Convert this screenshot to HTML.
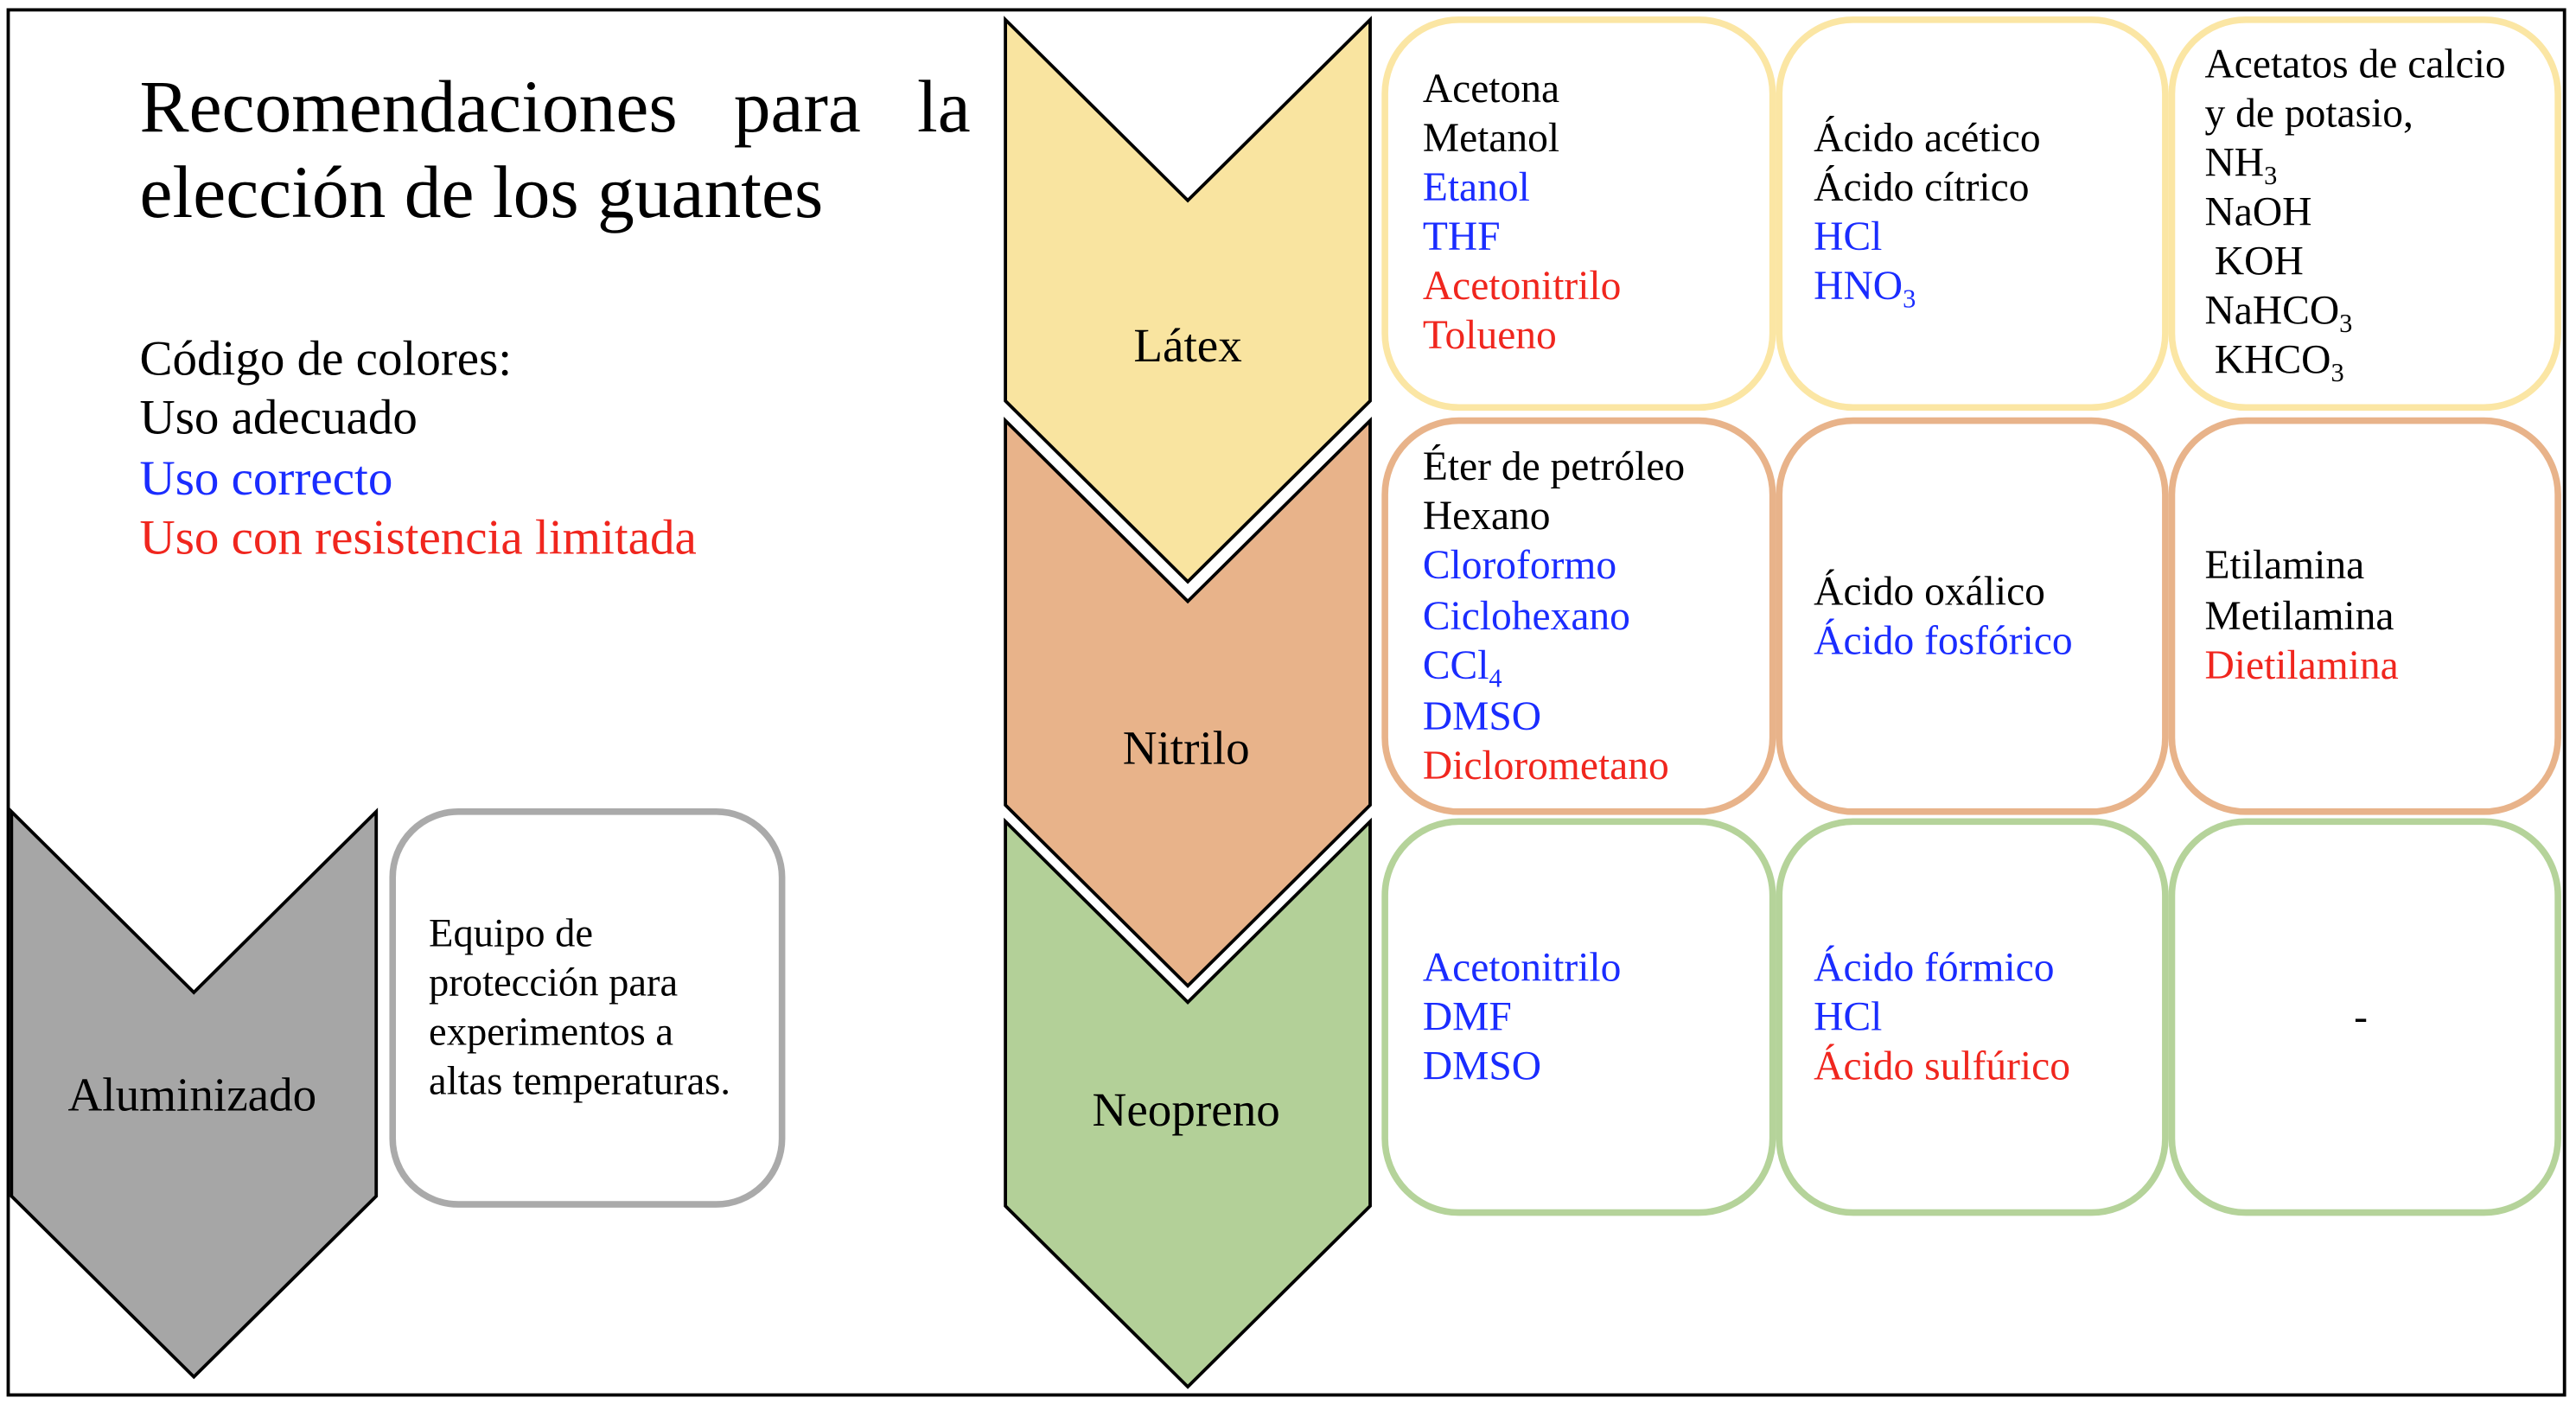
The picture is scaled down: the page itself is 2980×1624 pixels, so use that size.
<!DOCTYPE html>
<html><head><meta charset="utf-8"><style>html,body{margin:0;padding:0;background:#fff}svg{display:block}</style></head>
<body>
<svg width="2980" height="1624" viewBox="0 0 1568 854.5" xmlns="http://www.w3.org/2000/svg" font-family="'Liberation Serif', serif">
<rect x="5" y="6" width="1556" height="843" fill="#fff" stroke="#000" stroke-width="2"/>
<text x="85" y="80" font-size="45" word-spacing="23">Recomendaciones para la</text>
<text x="85" y="132" font-size="45">elección de los guantes</text>
<g font-size="30">
<text x="85" y="228">Código de colores:</text>
<text x="85" y="264">Uso adecuado</text>
<text x="85" y="301" fill="#1a2cff">Uso correcto</text>
<text x="85" y="337" fill="#f0261e">Uso con resistencia limitada</text>
</g>
<g stroke="#000" stroke-width="2">
<polygon points="612,12 723,122 834,12 834,244 723,354 612,244" fill="#f9e4a0"/>
<polygon points="612,256 723,366 834,256 834,490 723,600 612,490" fill="#e8b38a"/>
<polygon points="612,500 723,610 834,500 834,734 723,844 612,734" fill="#b3d098"/>
<polygon points="7,494 118,604 229,494 229,728 118,838 7,728" fill="#a6a6a6"/>
</g>
<g font-size="29" text-anchor="middle">
<text x="723" y="220">Látex</text>
<text x="722" y="465">Nitrilo</text>
<text x="722" y="685">Neopreno</text>
<text x="117" y="676">Aluminizado</text>
</g>
<g fill="none" stroke-width="4">
<rect x="843" y="12" width="236" height="236" rx="45" stroke="#fbe6a4"/>
<rect x="1083" y="12" width="235" height="236" rx="45" stroke="#fbe6a4"/>
<rect x="1322" y="12" width="235" height="236" rx="45" stroke="#fbe6a4"/>
<rect x="843" y="256" width="236" height="238" rx="45" stroke="#e8b38a"/>
<rect x="1083" y="256" width="235" height="238" rx="45" stroke="#e8b38a"/>
<rect x="1322" y="256" width="235" height="238" rx="45" stroke="#e8b38a"/>
<rect x="843" y="500" width="236" height="238" rx="45" stroke="#b5d39a"/>
<rect x="1083" y="500" width="235" height="238" rx="45" stroke="#b5d39a"/>
<rect x="1322" y="500" width="235" height="238" rx="45" stroke="#b5d39a"/>
<rect x="239" y="494" width="237" height="239" rx="40" stroke="#aaaaaa"/>
</g>
<g font-size="25">
<text x="866" y="62">Acetona</text>
<text x="866" y="92">Metanol</text>
<text x="866" y="122" fill="#1a2cff">Etanol</text>
<text x="866" y="152" fill="#1a2cff">THF</text>
<text x="866" y="182" fill="#f0261e">Acetonitrilo</text>
<text x="866" y="212" fill="#f0261e">Tolueno</text>

<text x="1104" y="92">Ácido acético</text>
<text x="1104" y="122">Ácido cítrico</text>
<text x="1104" y="152" fill="#1a2cff">HCl</text>
<text x="1104" y="182" fill="#1a2cff">HNO<tspan font-size="16" dy="5">3</tspan></text>

<text x="1342" y="47">Acetatos de calcio</text>
<text x="1342" y="77">y de potasio,</text>
<text x="1342" y="107">NH<tspan font-size="16" dy="5">3</tspan></text>
<text x="1342" y="137">NaOH</text>
<text x="1348" y="167">KOH</text>
<text x="1342" y="197">NaHCO<tspan font-size="16" dy="5">3</tspan></text>
<text x="1348" y="227">KHCO<tspan font-size="16" dy="5">3</tspan></text>

<text x="866" y="292">Éter de petróleo</text>
<text x="866" y="322">Hexano</text>
<text x="866" y="352" fill="#1a2cff">Cloroformo</text>
<text x="866" y="383" fill="#1a2cff">Ciclohexano</text>
<text x="866" y="413" fill="#1a2cff">CCl<tspan font-size="16" dy="5">4</tspan></text>
<text x="866" y="444" fill="#1a2cff">DMSO</text>
<text x="866" y="474" fill="#f0261e">Diclorometano</text>

<text x="1104" y="368">Ácido oxálico</text>
<text x="1104" y="398" fill="#1a2cff">Ácido fosfórico</text>

<text x="1342" y="352">Etilamina</text>
<text x="1342" y="383">Metilamina</text>
<text x="1342" y="413" fill="#f0261e">Dietilamina</text>

<text x="866" y="597" fill="#1a2cff">Acetonitrilo</text>
<text x="866" y="627" fill="#1a2cff">DMF</text>
<text x="866" y="657" fill="#1a2cff">DMSO</text>

<text x="1104" y="597" fill="#1a2cff">Ácido fórmico</text>
<text x="1104" y="627" fill="#1a2cff">HCl</text>
<text x="1104" y="657" fill="#f0261e">Ácido sulfúrico</text>

<text x="1437" y="627" text-anchor="middle">-</text>
</g>
<g font-size="24.5">
<text x="261" y="576">Equipo de</text>
<text x="261" y="606">protección para</text>
<text x="261" y="636">experimentos a</text>
<text x="261" y="666">altas temperaturas.</text>
</g>
</svg>
</body></html>
